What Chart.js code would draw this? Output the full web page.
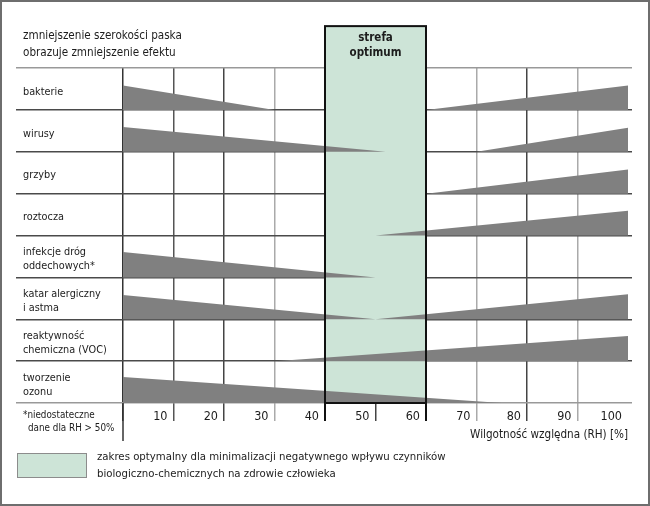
<!DOCTYPE html>
<html><head><meta charset="utf-8">
<script src="https://cdn.jsdelivr.net/npm/chart.js@4/dist/chart.umd.min.js"></script>
<style>
html,body{margin:0;padding:0;background:#fff;}
#wrap{position:relative;width:650px;height:506px;overflow:hidden;background:#fff;}
#frame{position:absolute;left:0;top:0;width:650px;height:506px;box-sizing:border-box;border:2px solid #6e6e6e;pointer-events:none;}
#c{position:absolute;left:0;top:0;}
.t{position:absolute;font-family:'Liberation Sans Narrow','Arial Narrow','DejaVu Sans Condensed',sans-serif;color:#1c1c1c;white-space:nowrap;}
</style></head><body>
<div id="wrap">
<canvas id="c" width="650" height="506"></canvas>
<div class="t" style="left:23px;top:27px;font-size:11.6px;line-height:17px;">zmniejszenie szerokości paska<br>obrazuje zmniejszenie efektu</div>
<div class="t" style="left:23px;top:408px;font-size:9.8px;line-height:14px;">*niedostateczne</div>
<div class="t" style="left:28px;top:421px;font-size:9.8px;line-height:14px;">dane dla RH &gt; 50%</div>
<div style="position:absolute;left:17px;top:453px;width:70px;height:25px;box-sizing:border-box;background:#cde4d7;border:1px solid #8c8c8c;"></div>
<div class="t" style="left:97px;top:449px;font-size:11.3px;line-height:16.5px;">zakres optymalny dla minimalizacji negatywnego wpływu czynników<br>biologiczno-chemicznych na zdrowie człowieka</div>
<div id="frame"></div>
</div>
<script>
// ---- data ----
const categories = [
  ['bakterie'], ['wirusy'], ['grzyby'], ['roztocza'],
  ['infekcje dróg', 'oddechowych*'], ['katar alergiczny', 'i astma'],
  ['reaktywność', 'chemiczna (VOC)'], ['tworzenie', 'ozonu']
];
// [RH %, band width as share of the row height]
const bakterie    = [[0, 0.585], [30, 0], [60, 0], [100, 0.585]];
const wirusy      = [[0, 0.59], [52, 0], [70, 0], [100, 0.575]];
const grzyby      = [[60, 0], [100, 0.575]];
const roztocza    = [[50, 0], [100, 0.59]];
const infekcje    = [[0, 0.605], [50, 0]];
const katar       = [[0, 0.58], [50, 0], [100, 0.6]];
const reaktywnosc = [[30, 0], [100, 0.6]];
const ozon        = [[0, 0.62], [75, 0]];
const series = [bakterie, wirusy, grzyby, roztocza, infekcje, katar, reaktywnosc, ozon];
const rhTicks = [0, 10, 20, 30, 40, 50, 60, 70, 80, 90, 100];
const optimumZone = [40, 60];
const zoneTitle = ['strefa', 'optimum'];
const axisTitle = 'Wilgotność względna (RH) [%]';

// ---- styles ----
const FONT = "'Liberation Sans Narrow','Arial Narrow','DejaVu Sans Condensed',sans-serif";
const WEDGE = '#808080';
const ZONE = '#cde4d7';
const TXT = '#1c1c1c';
const vShade = {0:'#333', 10:'#555', 20:'#444', 30:'#aaa', 40:'#111', 50:'#444', 60:'#111', 70:'#aaa', 80:'#444', 90:'#aaa', 100:'rgba(0,0,0,0)'};
const ROWS = categories.length;

const datasets = series.map((pts, i) => {
  const base = ROWS - 1 - i;
  return {
    type: 'line',
    data: pts.map(([x, h]) => ({x: x, y: base + h})),
    fill: {value: base},
    backgroundColor: WEDGE,
    borderColor: 'rgba(0,0,0,0)',
    borderWidth: 0,
    pointRadius: 0,
    tension: 0,
    xAxisID: 'x', yAxisID: 'y'
  };
});

const rowTicks = s => { s.ticks = Array.from({length: ROWS + 1}, (_, k) => ({value: k})); };
const hColor = ctx => (ctx.tick && (ctx.tick.value === 0 || ctx.tick.value === ROWS)) ? '#999' : '#4a4a4a';

const zonePlugin = {
  id: 'zone',
  beforeDatasetsDraw(chart) {
    const {ctx, scales: {x, y}} = chart;
    const x0 = x.getPixelForValue(optimumZone[0]), x1 = x.getPixelForValue(optimumZone[1]);
    const top = y.getPixelForValue(ROWS + 1), bot = y.getPixelForValue(0);
    ctx.save(); ctx.fillStyle = ZONE; ctx.fillRect(x0, top, x1 - x0, bot - top); ctx.restore();
  },
  afterDraw(chart) {
    const {ctx, scales: {x, y}} = chart;
    const x0 = x.getPixelForValue(optimumZone[0]), x1 = x.getPixelForValue(optimumZone[1]);
    const top = y.getPixelForValue(ROWS + 1), bot = y.getPixelForValue(0);
    ctx.save();
    ctx.strokeStyle = '#111'; ctx.lineWidth = 2;
    ctx.strokeRect(x0, top, x1 - x0, bot - top);
    // left axis extension below ticks
    const xl = x.getPixelForValue(0);
    ctx.strokeStyle = '#333'; ctx.lineWidth = 1.5;
    ctx.beginPath(); ctx.moveTo(xl, bot); ctx.lineTo(xl, bot + 38); ctx.stroke();
    // zone title
    ctx.fillStyle = TXT; ctx.font = "bold 11.5px " + FONT;
    ctx.textAlign = 'center'; ctx.textBaseline = 'middle';
    const mid = (x0 + x1) / 2;
    zoneTitle.forEach((s, i) => ctx.fillText(s, mid, top + 12 + i * 15));
    ctx.restore();
  }
};

new Chart(document.getElementById('c'), {
  type: 'line',
  data: {datasets},
  options: {
    responsive: false, animation: false, devicePixelRatio: 1,
    layout: {padding: {left: 23, top: 68, right: 18, bottom: 63}},
    plugins: {legend: {display: false}, tooltip: {enabled: false}},
    scales: {
      x: {
        type: 'linear', position: 'bottom', min: 0, max: 100, z: 1,
        afterBuildTicks: s => { s.ticks = rhTicks.map(v => ({value: v})); },
        afterFit: s => { s.height = 40; },
        border: {display: false},
        grid: {
          color: ctx => vShade[ctx.tick ? ctx.tick.value : 0] || '#444',
          lineWidth: ctx => (ctx.tick && optimumZone.includes(ctx.tick.value)) ? 2 : 1.5,
          tickLength: 18, drawTicks: true
        },
        ticks: {
          autoSkip: false, maxRotation: 0, align: 'end', labelOffset: -6, padding: -12,
          color: TXT, font: {family: FONT, size: 12.5},
          callback: v => v === 0 ? '' : String(v)
        },
        title: {display: true, text: axisTitle, align: 'end', color: TXT,
                font: {family: FONT, size: 11.6}, padding: {top: 0, bottom: 1}}
      },
      y: {
        type: 'linear', position: 'left', min: 0, max: ROWS, z: 1, weight: 0,
        afterBuildTicks: rowTicks,
        afterFit: s => { s.width = 100; },
        border: {display: false},
        grid: {color: hColor, lineWidth: 1.5, tickLength: 107, drawTicks: true},
        ticks: {
          autoSkip: false, crossAlign: 'far', labelOffset: -18,
          color: TXT, font: {family: FONT, size: 10.8, lineHeight: 1.25},
          callback: v => v < ROWS ? categories[ROWS - 1 - v] : ''
        }
      },
      yr: {
        type: 'linear', position: 'right', min: 0, max: ROWS, z: 1,
        afterBuildTicks: rowTicks,
        afterFit: s => { s.width = 4; },
        border: {display: false},
        grid: {color: hColor, lineWidth: 1.5, tickLength: 4, drawTicks: true, drawOnChartArea: false},
        ticks: {display: false}
      }
    }
  },
  plugins: [zonePlugin]
});
</script>
</body></html>
